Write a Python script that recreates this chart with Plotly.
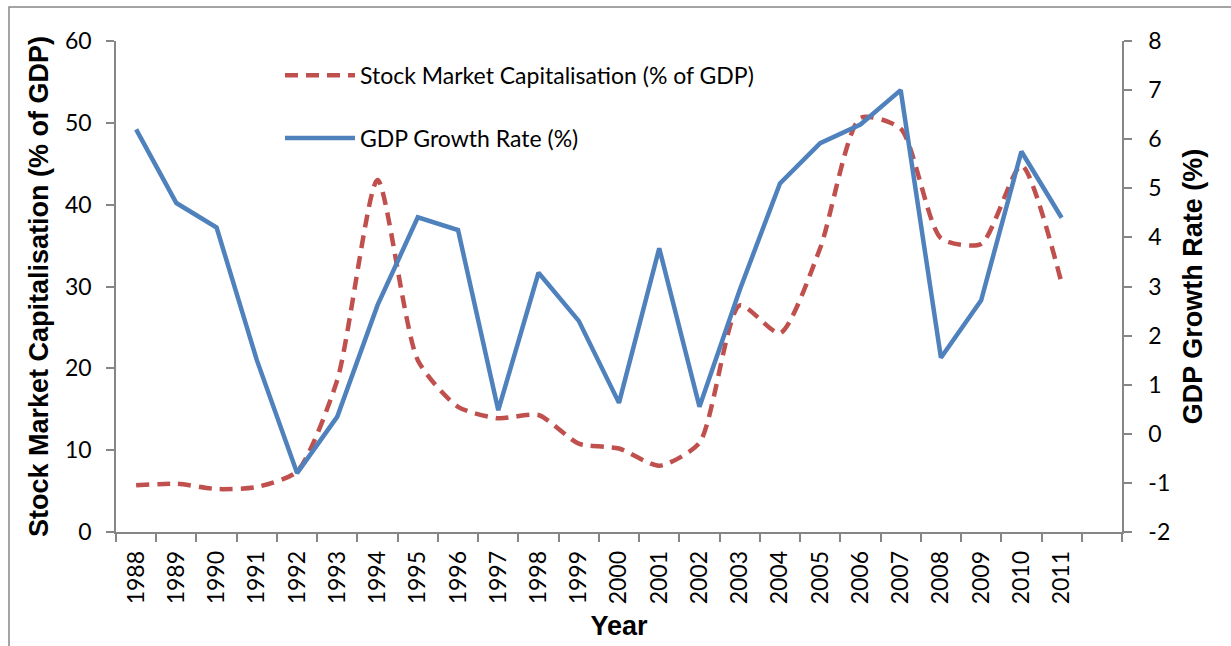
import plotly.graph_objects as go

years = [str(y) for y in range(1988, 2012)]
stock_cap = [5.7, 5.9, 5.25, 5.5, 7.4, 18.6, 43.0, 21.0, 15.3, 13.9, 14.3, 10.8,
             10.2, 8.1, 10.9, 27.7, 24.3, 34.7, 50.6, 49.3, 35.9, 35.2, 44.8, 30.4]
gdp_growth = [6.2, 4.7, 4.2, 1.5, -0.8, 0.35, 2.62, 4.41, 4.15, 0.48, 3.28, 2.30,
              0.63, 3.78, 0.55, 2.93, 5.1, 5.92, 6.3, 7.0, 1.55, 2.72, 5.75, 4.4]
left_ticks = [0, 10, 20, 30, 40, 50, 60]
right_ticks = [-2, -1, 0, 1, 2, 3, 4, 5, 6, 7, 8]
right_tick_text = ["-2", "-1", "0", "1", "2", "3", "4", "5", "6", "7", "8"]
x_idx = list(range(len(years)))

RED = "#C0504D"
BLUE = "#4F81BD"
AXIS = "#868686"
TICKFONT = dict(family="Lato", size=23, color="#000000")
TITLEFONT = dict(family="Liberation Sans", size=27, color="#000000")

fig = go.Figure()
fig.add_trace(go.Scatter(
    x=x_idx, y=stock_cap, mode="lines", name="Stock Market Capitalisation (% of GDP)",
    line=dict(color=RED, width=4.5, dash="13px,8px", shape="spline", smoothing=0.65),
    legendgroup="a", yaxis="y"))
fig.add_trace(go.Scatter(
    x=x_idx, y=gdp_growth, mode="lines", name="GDP Growth Rate (%)",
    line=dict(color=BLUE, width=4.5), legendgroup="b", yaxis="y2"))

fig.update_layout(
    width=1231, height=646,
    margin=dict(l=116, r=109, t=41, b=114, autoexpand=False),
    paper_bgcolor="white", plot_bgcolor="white",
    showlegend=True,
    legend=dict(x=0.163, y=0.974, xanchor="left", yanchor="top",
                bgcolor="rgba(0,0,0,0)", font=dict(family="Lato", size=23, color="#000"),
                itemwidth=70, tracegroupgap=30, traceorder="grouped"),
    xaxis=dict(
        range=[-0.5, 24.5], tickmode="array", tickvals=x_idx, ticktext=years,
        tickangle=-90, ticks="", tickfont=TICKFONT, automargin=False,
        ticklabelstandoff=8,
        showline=True, linecolor=AXIS, linewidth=1.5, showgrid=False, zeroline=False,
        minor=dict(tickmode="linear", tick0=-0.5, dtick=1, ticks="outside",
                   ticklen=8, tickcolor=AXIS, tickwidth=1.5, showgrid=False),
        title=dict(text="<b>Year</b>", font=TITLEFONT, standoff=13),
    ),
    yaxis=dict(
        range=[0, 60], tickmode="array", tickvals=left_ticks,
        ticks="outside", ticklen=8, tickcolor=AXIS, tickwidth=1.5, automargin=False,
        ticklabelstandoff=10,
        showline=True, linecolor=AXIS, linewidth=1.5, showgrid=False, zeroline=False,
        tickfont=TICKFONT,
        title=dict(text="<b>Stock Market Capitalisation (% of GDP)</b>", font=TITLEFONT, standoff=9),
    ),
    yaxis2=dict(
        range=[-2, 8], tickmode="array", tickvals=right_ticks, ticktext=right_tick_text,
        overlaying="y", side="right", anchor="x", automargin=False,
        ticks="outside", ticklen=8, tickcolor=AXIS, tickwidth=1.5,
        ticklabelstandoff=12,
        showline=True, linecolor=AXIS, linewidth=1.5, showgrid=False, zeroline=False,
        tickfont=TICKFONT,
        title=dict(text="<b>GDP Growth Rate (%)</b>", font=TITLEFONT, standoff=14),
    ),
    shapes=[dict(type="rect", xref="paper", yref="paper",
                 x0=(9 - 116) / 1006, x1=(1240 - 116) / 1006,
                 y0=(532 - 660) / 491, y1=(532 - 7) / 491,
                 line=dict(color=AXIS, width=1.5), fillcolor="rgba(0,0,0,0)", layer="below")],
)

fig.write_html("out.html", config={"displayModeBar": False},
               post_script="document.body.style.margin='0';document.body.style.overflow='hidden';")
